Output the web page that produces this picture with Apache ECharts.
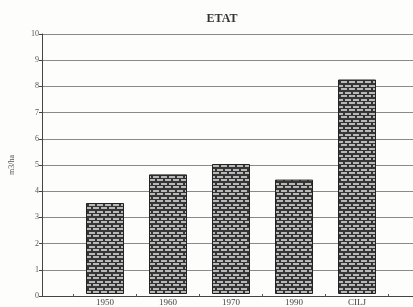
<!DOCTYPE html>
<html>
<head>
<meta charset="utf-8">
<script src="https://cdn.jsdelivr.net/npm/echarts@6/dist/echarts.min.js"></script>
<style>
  html, body { margin: 0; padding: 0; background: #fdfdfb; }
  #chart { width: 413px; height: 307px; }
</style>
</head>
<body>
<div id="chart"></div>
<script>
// ETAT - m3/ha par periode
const categories = ['1950', '1960', '1970', '1990', 'CILJ'];
const values = [3.5, 4.6, 5.0, 4.4, 8.25];
const yTicks = [0, 10, 1]; // min, max, step

// brick pattern for the bars
function brickPattern() {
    const c = document.createElement('canvas');
    c.width = 8;
    c.height = 7;
    const ctx = c.getContext('2d');
    ctx.fillStyle = '#353535';
    ctx.fillRect(0, 0, 8, 7);
    ctx.fillStyle = '#b8b8b8';
    ctx.fillRect(1, 1, 6, 2);
    ctx.fillRect(5, 4, 3, 2);
    ctx.fillRect(0, 4, 3, 2);
    return c;
}

const serif = '"Liberation Serif", "DejaVu Serif", serif';

const chart = echarts.init(document.getElementById('chart'));

chart.setOption({
    backgroundColor: '#fdfdfb',
    animation: false,
    title: {
        text: 'ETAT',
        left: 217,
        top: 8,
        textAlign: 'center',
        textStyle: { fontFamily: serif, fontSize: 12, fontWeight: 'bold', color: '#333' }
    },
    grid: [
        { left: 42, top: 34, bottom: 11, right: -20 },
        { left: 73.5, top: 34, bottom: 11, width: 315 }
    ],
    xAxis: [
        {
            gridIndex: 0, type: 'value', min: 0, max: 1,
            axisLine: { show: true, lineStyle: { color: '#444', width: 1 } },
            axisTick: { show: false }, axisLabel: { show: false }, splitLine: { show: false }
        },
        {
            gridIndex: 1, type: 'category', data: categories,
            axisLine: { show: false },
            axisTick: { show: true, length: 3, lineStyle: { color: '#555' } },
            axisLabel: { fontFamily: serif, fontSize: 9, color: '#444', margin: 4 },
            splitLine: { show: false }
        }
    ],
    yAxis: [
        {
            gridIndex: 0, type: 'value', min: yTicks[0], max: yTicks[1], interval: yTicks[2],
            name: 'm3/ha', nameLocation: 'middle', nameGap: 26, nameRotate: 90,
            nameTextStyle: { fontFamily: serif, fontSize: 8, color: '#555' },
            axisLine: { show: true, lineStyle: { color: '#444', width: 1 } },
            axisTick: { show: true, length: 3, lineStyle: { color: '#444' } },
            axisLabel: { fontFamily: serif, fontSize: 8, color: '#555', margin: 3 },
            splitLine: { show: true, lineStyle: { color: '#8a8a8a', width: 1 } }
        },
        {
            gridIndex: 1, type: 'value', min: yTicks[0], max: yTicks[1], show: false
        }
    ],
    series: [{
        type: 'bar',
        xAxisIndex: 1,
        yAxisIndex: 1,
        data: values,
        barWidth: 38,
        itemStyle: {
            color: { image: brickPattern(), repeat: 'repeat' },
            borderColor: '#222',
            borderWidth: 1
        }
    }]
});
</script>
</body>
</html>
